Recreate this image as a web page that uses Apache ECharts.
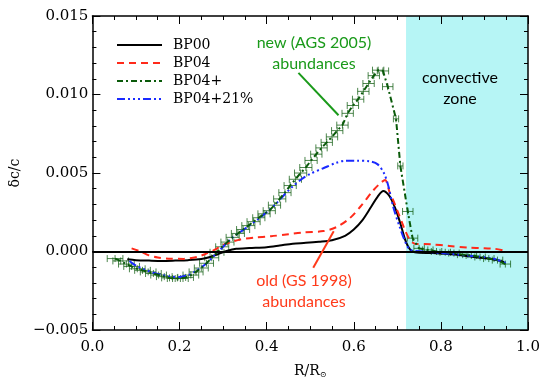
<!DOCTYPE html>
<html>
<head>
<meta charset="utf-8">
<script src="https://cdn.jsdelivr.net/npm/echarts@6/dist/echarts.min.js"></script>
<style>
html, body { margin: 0; padding: 0; background: #fff; }
#chart { width: 545px; height: 384px; }
</style>
</head>
<body>
<div id="chart"></div>
<script>
// y values below are in units of 1e-3 (dc/c)
var bp00X = [0.080, 0.100, 0.130, 0.160, 0.190, 0.220, 0.250, 0.270, 0.290, 0.310, 0.330, 0.360, 0.400, 0.430, 0.460, 0.490, 0.520, 0.550, 0.580, 0.600, 0.620, 0.640, 0.655, 0.668, 0.680, 0.690, 0.700, 0.710, 0.720, 0.730, 0.740, 0.780, 0.810, 0.850, 0.885, 0.920, 0.945];
var bp00Y = [-0.50, -0.55, -0.58, -0.60, -0.58, -0.55, -0.48, -0.35, -0.15, 0.05, 0.17, 0.22, 0.27, 0.38, 0.50, 0.55, 0.62, 0.72, 1.00, 1.40, 2.00, 2.85, 3.50, 3.85, 3.60, 3.10, 2.40, 1.50, 0.60, 0.10, -0.05, -0.10, -0.15, -0.25, -0.38, -0.50, -0.68];

var bp04X = [0.090, 0.110, 0.130, 0.150, 0.175, 0.210, 0.240, 0.260, 0.280, 0.300, 0.320, 0.340, 0.370, 0.410, 0.450, 0.480, 0.530, 0.560, 0.590, 0.615, 0.645, 0.663, 0.672, 0.683, 0.690, 0.700, 0.710, 0.720, 0.730, 0.740, 0.777, 0.820, 0.862, 0.900, 0.922, 0.945];
var bp04Y = [0.20, 0.00, -0.25, -0.38, -0.46, -0.47, -0.35, -0.15, 0.10, 0.42, 0.62, 0.77, 0.88, 0.97, 1.10, 1.20, 1.30, 1.55, 2.10, 2.85, 3.90, 4.40, 4.55, 3.70, 3.30, 2.60, 1.90, 1.20, 0.70, 0.50, 0.46, 0.35, 0.25, 0.20, 0.18, 0.05];

var bp04pX = [0.052, 0.065, 0.078, 0.090, 0.103, 0.115, 0.128, 0.140, 0.152, 0.165, 0.177, 0.190, 0.202, 0.214, 0.226, 0.238, 0.250, 0.262, 0.274, 0.286, 0.298, 0.310, 0.322, 0.334, 0.346, 0.358, 0.370, 0.382, 0.394, 0.406, 0.418, 0.430, 0.442, 0.454, 0.466, 0.478, 0.490, 0.502, 0.514, 0.526, 0.538, 0.550, 0.562, 0.574, 0.586, 0.598, 0.610, 0.622, 0.634, 0.646, 0.656, 0.667, 0.678, 0.697, 0.707, 0.724, 0.735, 0.750, 0.770, 0.790, 0.810, 0.830, 0.850, 0.870, 0.890, 0.910, 0.930, 0.948];
var bp04pY = [-0.45, -0.60, -0.80, -0.95, -1.10, -1.20, -1.30, -1.40, -1.50, -1.60, -1.68, -1.72, -1.72, -1.65, -1.50, -1.30, -1.05, -0.75, -0.40, -0.05, 0.30, 0.60, 0.90, 1.15, 1.40, 1.65, 1.90, 2.15, 2.40, 2.60, 2.95, 3.35, 3.75, 4.20, 4.60, 5.00, 5.35, 5.80, 6.20, 6.60, 6.95, 7.30, 7.70, 8.05, 8.80, 9.30, 9.70, 10.20, 10.70, 11.20, 11.55, 11.50, 10.50, 8.45, 5.45, 2.55, 0.85, 0.20, 0.10, 0.00, -0.05, -0.10, -0.20, -0.25, -0.35, -0.45, -0.55, -0.80];
var bp04pErr = [0.018, 0.018, 0.018, 0.018, 0.018, 0.018, 0.018, 0.018, 0.018, 0.018, 0.018, 0.018, 0.018, 0.018, 0.018, 0.016, 0.016, 0.016, 0.016, 0.016, 0.015, 0.015, 0.015, 0.015, 0.015, 0.015, 0.015, 0.014, 0.014, 0.014, 0.014, 0.014, 0.014, 0.014, 0.014, 0.014, 0.014, 0.014, 0.013, 0.013, 0.013, 0.013, 0.013, 0.013, 0.013, 0.013, 0.013, 0.013, 0.013, 0.013, 0.013, 0.013, 0.012, 0.006, 0.006, 0.012, 0.012, 0.012, 0.012, 0.012, 0.012, 0.012, 0.012, 0.012, 0.012, 0.012, 0.012, 0.012];

var bp21X = [0.085, 0.100, 0.120, 0.140, 0.160, 0.180, 0.200, 0.220, 0.240, 0.260, 0.280, 0.300, 0.320, 0.340, 0.360, 0.380, 0.400, 0.420, 0.440, 0.460, 0.480, 0.500, 0.530, 0.560, 0.580, 0.610, 0.635, 0.655, 0.670, 0.680, 0.690, 0.705, 0.720, 0.730, 0.760, 0.800, 0.840, 0.880, 0.920, 0.950];
var bp21Y = [-0.60, -0.90, -1.15, -1.35, -1.50, -1.60, -1.62, -1.50, -1.20, -0.80, -0.25, 0.30, 0.85, 1.25, 1.65, 2.05, 2.50, 3.00, 3.60, 4.15, 4.60, 4.95, 5.30, 5.65, 5.78, 5.78, 5.75, 5.55, 4.95, 4.10, 2.90, 1.60, 0.50, 0.10, 0.00, -0.10, -0.20, -0.30, -0.45, -0.75];

var xTicks = [0.0, 0.2, 0.4, 0.6, 0.8, 1.0];
var yTicks = [-0.005, 0.000, 0.005, 0.010, 0.015];
var convStart = 0.72;
// annotation pointer lines [x1, y1, x2, y2] (y in 1e-3)
var newPointer = [0.473, 11.38, 0.565, 8.68];
var oldPointer = [0.554, 1.29, 0.507, -1.03];

function pairs(xs, ys) {
	var out = [];
	for (var i = 0; i < xs.length; i++) {
		out.push([xs[i], ys[i] * 1e-3]);
	}
	return out;
}

var errData = [];
for (var i = 0; i < bp04pX.length; i++) {
	errData.push([bp04pX[i], bp04pY[i] * 1e-3, bp04pErr[i]]);
}

var serif = '"DejaVu Serif", "Liberation Serif", serif';
var sans = 'Lato, "Open Sans", sans-serif';

var chart = echarts.init(document.getElementById('chart'));

function xAxisCfg(pos, showLabel) {
	return {
		type: 'value', position: pos, min: xTicks[0], max: xTicks[xTicks.length - 1], interval: 0.2,
		z: 10,
		axisLine: { show: true, onZero: false, lineStyle: { color: '#000', width: 1.5 } },
		axisTick: { show: true, inside: true, length: 8, lineStyle: { color: '#000', width: 1 } },
		minorTick: { show: true, splitNumber: 4, length: 4, lineStyle: { color: '#000', width: 1 } },
		splitLine: { show: false },
		axisLabel: { show: showLabel, margin: 10, color: '#000', fontFamily: serif, fontSize: 15,
			formatter: function (v) { return v.toFixed(1); } },
		name: showLabel ? '{a|R/R}{b|\u2299}' : '',
		nameLocation: 'middle', nameGap: 33,
		nameTextStyle: { rich: {
			a: { fontFamily: serif, fontSize: 14, color: '#000' },
			b: { fontFamily: serif, fontSize: 8, color: '#000', padding: [8, 0, 0, 0] }
		} }
	};
}
function yAxisCfg(pos, showLabel) {
	return {
		type: 'value', position: pos, min: yTicks[0], max: yTicks[yTicks.length - 1], interval: 0.005,
		z: 10,
		axisLine: { show: true, onZero: false, lineStyle: { color: '#000', width: 1.5 } },
		axisTick: { show: true, inside: true, length: 8, lineStyle: { color: '#000', width: 1 } },
		minorTick: { show: true, splitNumber: 5, length: 4, lineStyle: { color: '#000', width: 1 } },
		splitLine: { show: false },
		axisLabel: { show: showLabel, margin: 4, color: '#000', fontFamily: serif, fontSize: 15,
			formatter: function (v) { return (v < 0 ? '\u2212' : '') + Math.abs(v).toFixed(3); } },
		name: showLabel ? '\u03b4c/c' : '',
		nameLocation: 'middle', nameGap: 68, nameRotate: 90,
		nameTextStyle: { fontFamily: serif, fontSize: 14, color: '#000' }
	};
}

function annot(x, y, text, color) {
	return { type: 'text', x: x, y: y, z: 20,
		style: { text: text, fontFamily: sans, fontSize: 16, fill: color, align: 'center', verticalAlign: 'middle' } };
}

var option = {
	animation: false,
	backgroundColor: '#fff',
	grid: { left: 82, right: 17, top: 16, bottom: 49 },
	xAxis: [xAxisCfg('bottom', true), xAxisCfg('top', false)],
	yAxis: [yAxisCfg('left', true), yAxisCfg('right', false)],
	legend: {
		data: ['BP00', 'BP04', 'BP04+', 'BP04+21%'],
		orient: 'vertical', left: 111, top: 33,
		itemWidth: 45, itemHeight: 12, itemGap: 4,
		itemStyle: { opacity: 0 },
		textStyle: { fontFamily: serif, fontSize: 14, lineHeight: 12, color: '#000', padding: [0, 0, 0, 6] }
	},
	graphic: [
		annot(314, 43, 'new (AGS 2005)', '#1a9a1a'),
		annot(314, 64, 'abundances', '#1a9a1a'),
		annot(304, 281, 'old (GS 1998)', '#ff3a1a'),
		annot(304, 302, 'abundances', '#ff3a1a'),
		annot(460, 78, 'convective', '#000'),
		annot(460, 99, 'zone', '#000')
	],
	series: [
		{
			name: 'BP00', type: 'line', data: pairs(bp00X, bp00Y), symbol: 'none', smooth: 0.3, z: 3,
			color: '#000', lineStyle: { color: '#000', width: 2 }
		},
		{
			name: 'BP04', type: 'line', data: pairs(bp04X, bp04Y), symbol: 'none', smooth: 0.3, z: 3,
			color: '#ff2a1a', lineStyle: { color: '#ff2a1a', width: 2, type: [7, 5] }
		},
		{
			name: 'BP04+', type: 'line', data: pairs(bp04pX, bp04pY), symbol: 'none', z: 4,
			color: '#0a5a0a', lineStyle: { color: '#0a5a0a', width: 2, type: [6, 3, 2, 3] }
		},
		{
			name: 'BP04+21%', type: 'line', data: pairs(bp21X, bp21Y), symbol: 'none', smooth: 0.3, z: 3,
			color: '#1a2aff', lineStyle: { color: '#1a2aff', width: 2, type: [8, 3, 2, 3, 2, 3, 2, 3] }
		},
		{
			// horizontal error bars of BP04+
			name: 'err', type: 'custom', z: 2, silent: true,
			data: errData,
			renderItem: function (params, api) {
				var x = api.value(0), y = api.value(1), e = api.value(2);
				var l = api.coord([x - e, y]);
				var r = api.coord([x + e, y]);
				var c = api.coord([x, y]);
				var h = 3.5;
				var st = { stroke: 'rgba(20,95,20,0.75)', lineWidth: 1 };
				return {
					type: 'group', children: [
						{ type: 'line', shape: { x1: l[0], y1: l[1], x2: r[0], y2: r[1] }, style: st },
						{ type: 'line', shape: { x1: l[0], y1: l[1] - h, x2: l[0], y2: l[1] + h }, style: st },
						{ type: 'line', shape: { x1: r[0], y1: r[1] - h, x2: r[0], y2: r[1] + h }, style: st },
						{ type: 'line', shape: { x1: c[0], y1: c[1] - h, x2: c[0], y2: c[1] + h }, style: st }
					]
				};
			}
		},
		{
			// convective zone overlay
			name: 'conv', type: 'line', data: [], z: 5, silent: true,
			markArea: {
				silent: true,
				itemStyle: { color: 'rgba(110,235,235,0.5)' },
				data: [[{ xAxis: convStart, yAxis: yTicks[0] }, { xAxis: 1.0, yAxis: yTicks[yTicks.length - 1] }]]
			}
		},
		{
			name: 'zero', type: 'line', data: [], z: 6, silent: true,
			markLine: {
				silent: true, symbol: 'none', label: { show: false },
				data: [
					[{ coord: [0, 0], lineStyle: { color: '#000', width: 2, type: 'solid' } }, { coord: [1, 0] }],
					[{ coord: [newPointer[0], newPointer[1] * 1e-3], lineStyle: { color: '#1a9a1a', width: 2, type: 'solid' } },
						{ coord: [newPointer[2], newPointer[3] * 1e-3] }],
					[{ coord: [oldPointer[0], oldPointer[1] * 1e-3], lineStyle: { color: '#ff3a1a', width: 2, type: 'solid' } },
						{ coord: [oldPointer[2], oldPointer[3] * 1e-3] }]
				]
			}
		}
	]
};

chart.setOption(option);
</script>
</body>
</html>
